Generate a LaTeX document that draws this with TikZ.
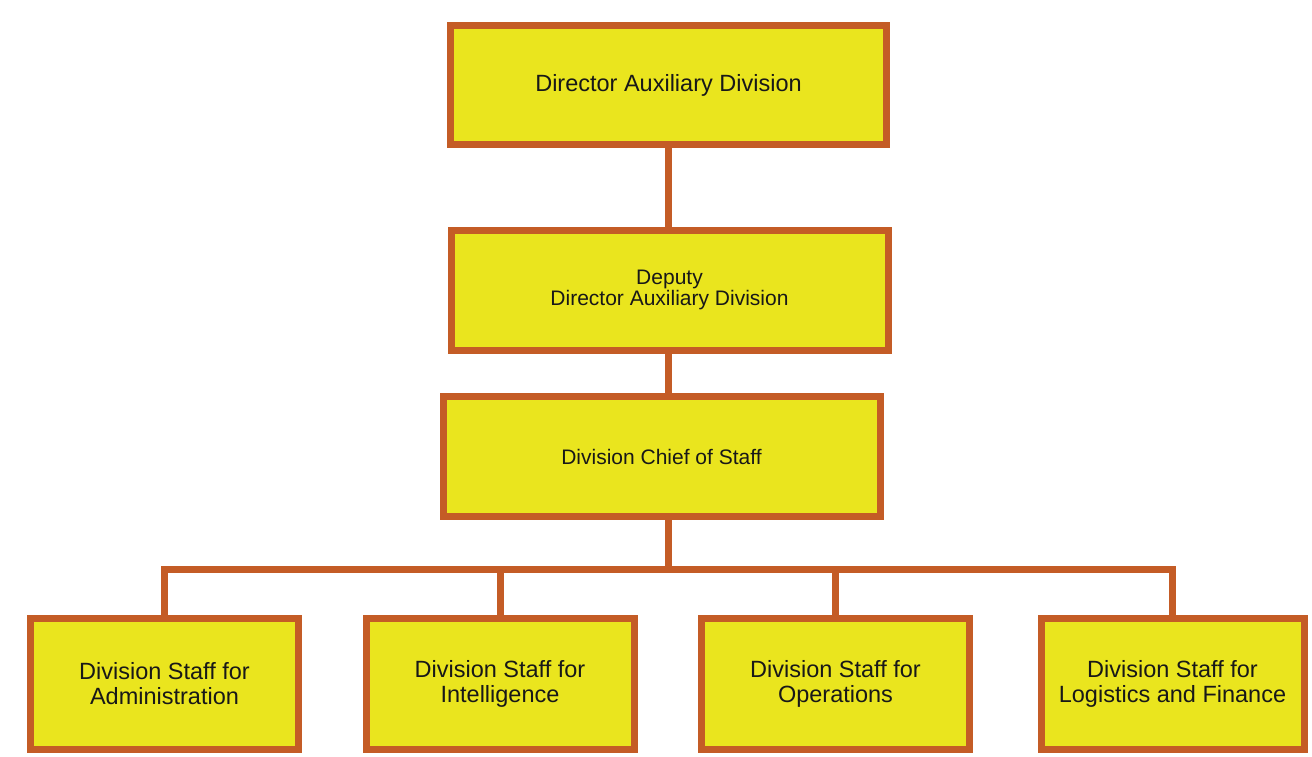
\documentclass[tikz,border=0pt]{standalone}
\usepackage{fontspec}
\setmainfont{Liberation Sans}
\definecolor{boxfill}{RGB}{234,229,30}
\definecolor{boxline}{RGB}{196,92,38}
\definecolor{textcol}{RGB}{24,24,24}
\begin{document}
\begin{tikzpicture}[x=1pt,y=-1pt,
  orgbox/.style={draw=boxline, fill=boxfill, line width=7pt, text=textcol,
    align=center, inner sep=0pt, outer sep=0pt},
  topbox/.style={orgbox, minimum width=436pt, minimum height=119pt,
    font=\fontsize{23.5}{25}\selectfont},
  midbox/.style={orgbox, minimum width=437pt, minimum height=120pt,
    font=\fontsize{21}{21.5}\selectfont},
  staffbox/.style={orgbox, minimum width=268pt, minimum height=131pt,
    font=\fontsize{23.5}{25}\selectfont},
  link/.style={draw=boxline, line width=7pt, line join=miter}]
\useasboundingbox (0,0) rectangle (1312,756);
\fill[white] (0,0) rectangle (1312,756);

% junction of the staff bus with the main trunk
\coordinate (trunk) at (668,569);

% command chain
\node[topbox] (dir) at (668.5,85) {Director Auxiliary Division};
\node[midbox] (dep) at (669.5,290) {Deputy\\Director Auxiliary Division};
\node[midbox] (cos) at (661.5,456.5) {Division Chief of Staff};

% staff sections
\node[staffbox] (adm) at (164.5,684) {Division Staff for\\Administration};
\node[staffbox] (int) at (500,684) {Division Staff for\\Intelligence};
\node[staffbox] (ops) at (835.5,684) {Division Staff for\\Operations};
\node[staffbox, minimum width=263pt] (log) at (1172.5,684) {Division Staff for\\Logistics and Finance};

% connectors
\path[link] (trunk |- dir.south) -- (trunk |- dep.north);
\path[link] (trunk |- dep.south) -- (trunk |- cos.north);
\path[link] (trunk |- cos.south) -- (trunk);
\path[link] (adm.north) |- (trunk);
\path[link] (int.north) |- (trunk);
\path[link] (ops.north) |- (trunk);
\path[link] (log.north) |- (trunk);
\end{tikzpicture}
\end{document}
